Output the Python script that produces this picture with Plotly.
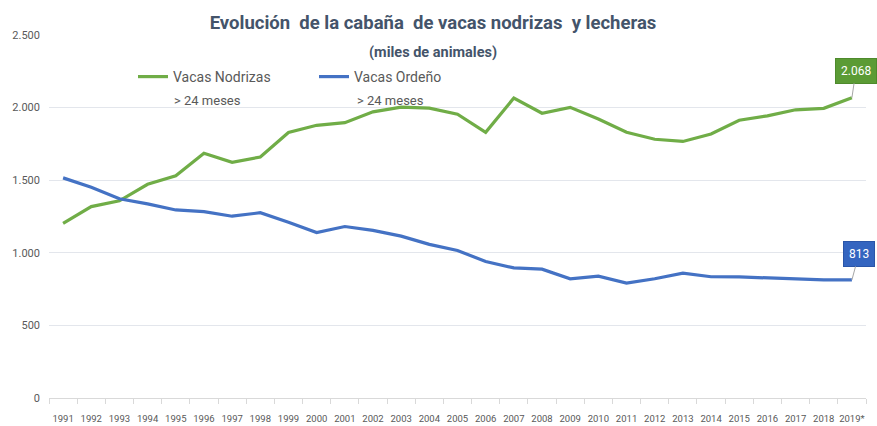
import plotly.graph_objects as go

years = ["1991", "1992", "1993", "1994", "1995", "1996", "1997", "1998", "1999", "2000",
         "2001", "2002", "2003", "2004", "2005", "2006", "2007", "2008", "2009", "2010",
         "2011", "2012", "2013", "2014", "2015", "2016", "2017", "2018", "2019*"]

nodrizas = [1203, 1318, 1358, 1472, 1530, 1686, 1623, 1660, 1829, 1878,
            1896, 1971, 2003, 1996, 1955, 1830, 2066, 1961, 2002, 1921,
            1830, 1782, 1767, 1818, 1913, 1943, 1985, 1995, 2068]

ordeno = [1516, 1451, 1372, 1337, 1295, 1284, 1252, 1276, 1210, 1139,
          1181, 1154, 1115, 1058, 1016, 940, 896, 887, 821, 839,
          792, 821, 860, 835, 834, 828, 821, 813, 813]

y_ticks = [0, 500, 1000, 1500, 2000, 2500]

GREEN = "#70AD47"
BLUE = "#4472C4"
FONT = "Roboto, Liberation Sans, sans-serif"
TXT = "#595959"

fig = go.Figure()
fig.add_trace(go.Scatter(x=years, y=nodrizas, mode="lines", name="Vacas Nodrizas",
                         line=dict(color=GREEN, width=3.2)))
fig.add_trace(go.Scatter(x=years, y=ordeno, mode="lines", name="Vacas Ordeño",
                         line=dict(color=BLUE, width=3.2)))

# data labels for last values
fig.add_annotation(x=years[-1], y=nodrizas[-1], text=f"{nodrizas[-1]:,}".replace(",", "."),
                   showarrow=True, arrowhead=0, arrowwidth=1, arrowcolor="#A6A6A6",
                   ax=4, ay=-27, bgcolor="#5B9B35", bordercolor="#4E8A2C", borderwidth=1,
                   borderpad=5, font=dict(family=FONT, size=12, color="white"))
fig.add_annotation(x=years[-1], y=ordeno[-1], text=f"{ordeno[-1]}",
                   showarrow=True, arrowhead=0, arrowwidth=1, arrowcolor="#A6A6A6",
                   ax=7, ay=-26, bgcolor="#3465C0", bordercolor="#2A55A8", borderwidth=1,
                   borderpad=5, font=dict(family=FONT, size=12, color="white"))

# second line of legend labels
fig.add_annotation(xref="paper", yref="paper", x=(172 - 49) / 817, y=(398 - 100) / 363,
                   text="> 24 meses", showarrow=False, xanchor="left", yanchor="middle",
                   font=dict(family=FONT, size=13, color=TXT))
fig.add_annotation(xref="paper", yref="paper", x=(355 - 49) / 817, y=(398 - 100) / 363,
                   text="> 24 meses", showarrow=False, xanchor="left", yanchor="middle",
                   font=dict(family=FONT, size=13, color=TXT))

# subtitle
fig.add_annotation(xref="paper", yref="paper", x=(433 - 49) / 817, y=(398 - 52) / 363,
                   text="<b>(miles de animales)</b>", showarrow=False, xanchor="center",
                   yanchor="middle", font=dict(family=FONT, size=14.5, color="#44546A"))

fig.update_layout(
    width=877, height=426,
    margin=dict(l=49, r=11, t=35, b=28),
    paper_bgcolor="white", plot_bgcolor="white",
    separators=",.",
    title=dict(text="<b>Evolución  de la cabaña  de vacas nodrizas  y lecheras</b>",
               x=433 / 877, xanchor="center", y=1 - 23 / 426, yanchor="middle",
               font=dict(family=FONT, size=18.5, color="#44546A")),
    font=dict(family=FONT, color=TXT),
    legend=dict(orientation="h", x=(133 - 49) / 817, y=(398 - 77) / 363,
                xanchor="left", yanchor="middle", bgcolor="rgba(0,0,0,0)",
                font=dict(family=FONT, size=14, color=TXT), entrywidth=136),
    showlegend=True,
    xaxis=dict(type="category", range=[-0.5, len(years) - 0.5], showgrid=False,
               showline=True, linecolor="#D9D9D9",
               linewidth=1, ticks="outside", tickson="boundaries", ticklen=5,
               tickcolor="#D9D9D9", tickfont=dict(family=FONT, size=9.5, color=TXT),
               tickangle=0, ticklabelstandoff=12, automargin=False, fixedrange=True),
    yaxis=dict(range=[0, 2500], tickvals=y_ticks, tickformat=",d", showgrid=True,
               gridcolor="#E3E6EC", gridwidth=1, zeroline=False, showline=False,
               tickfont=dict(family=FONT, size=11, color=TXT), ticklabelstandoff=8,
               automargin=False, fixedrange=True),
)

fig.write_html("out.html", config={"displayModeBar": False},
               post_script="document.body.style.margin='0';document.body.style.overflow='hidden';")
